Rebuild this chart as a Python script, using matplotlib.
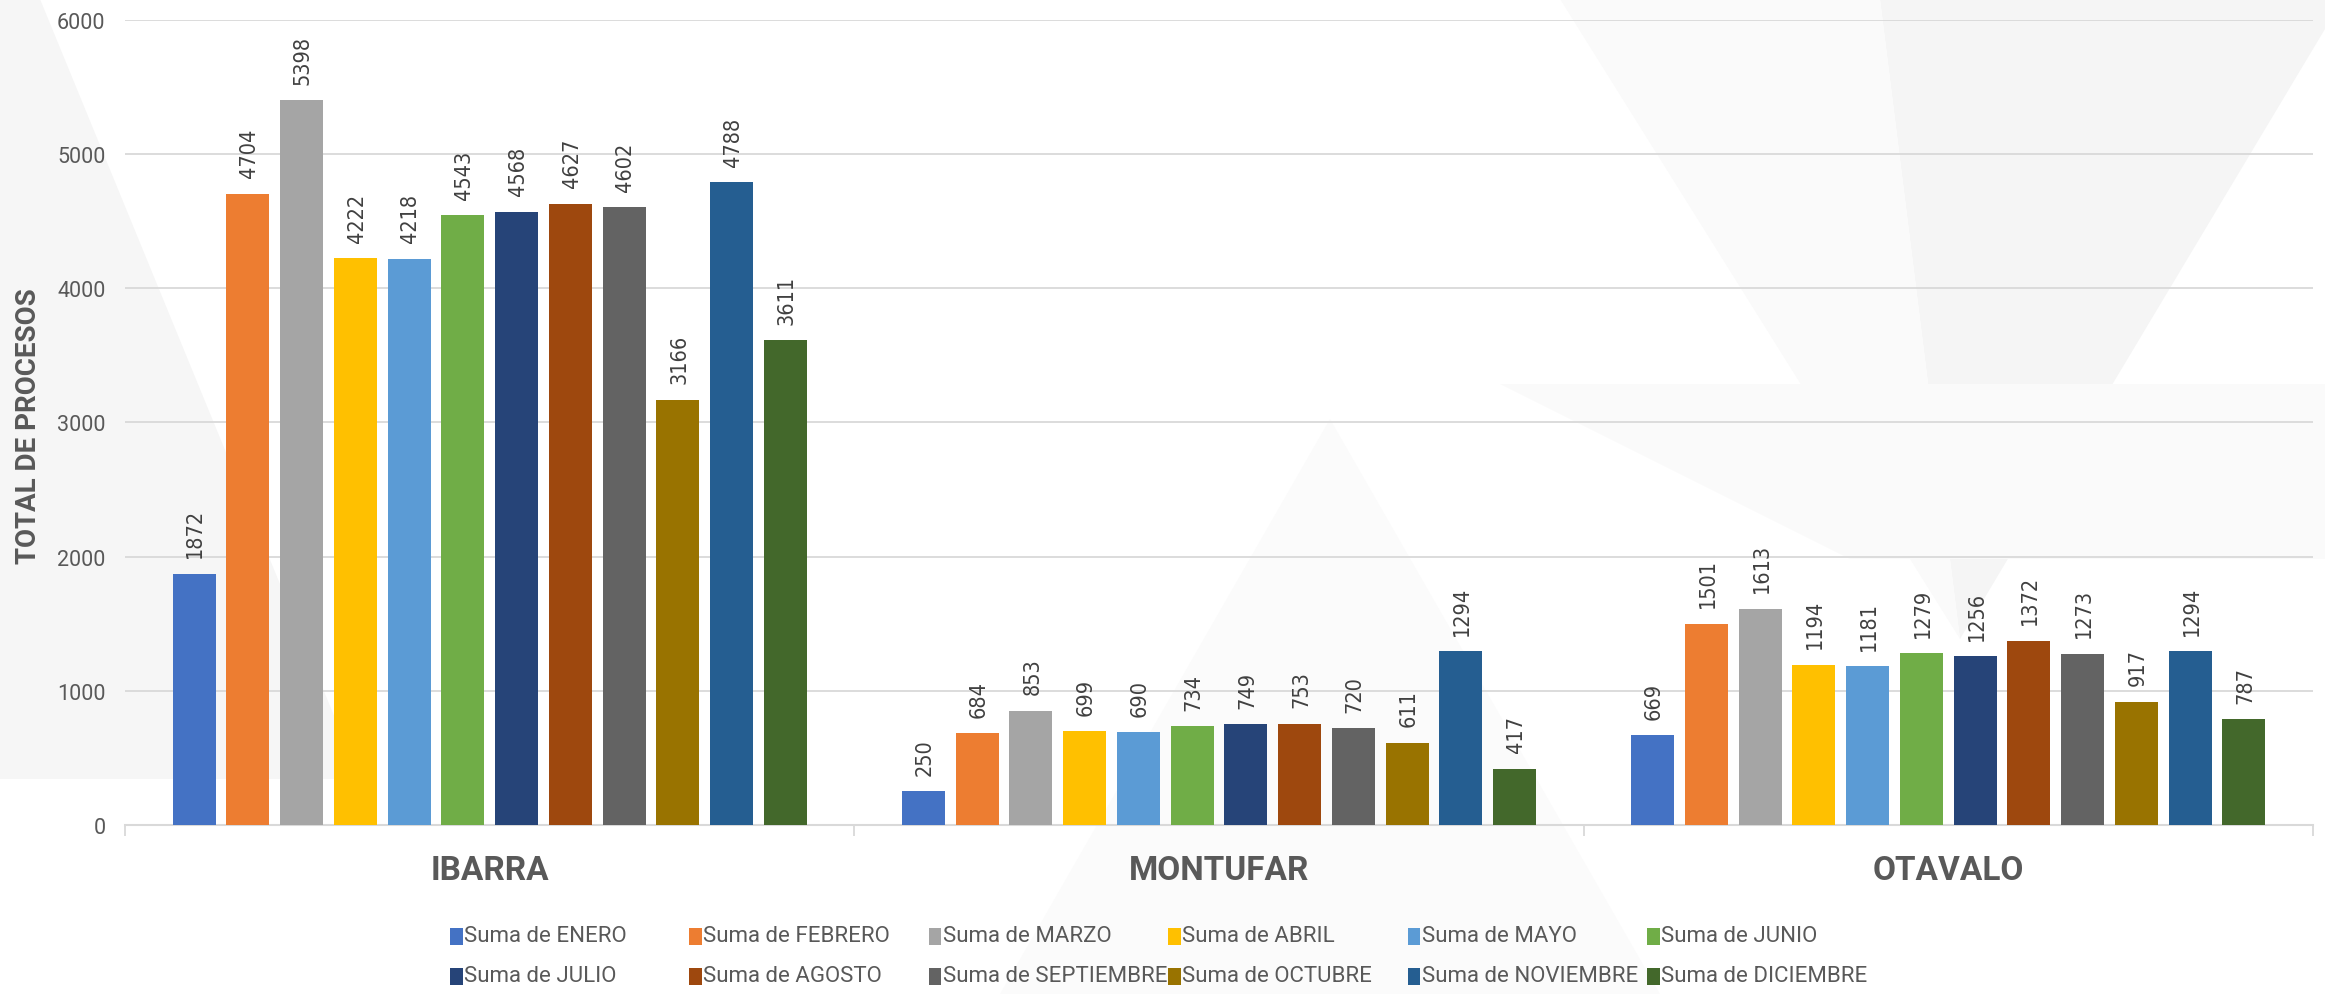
import matplotlib
matplotlib.use("Agg")
import matplotlib.pyplot as plt
from matplotlib.patches import Rectangle, Polygon
from matplotlib import font_manager as fm
import numpy as np

categories = ["IBARRA", "MONTUFAR", "OTAVALO"]
series_names = ["Suma de ENERO", "Suma de FEBRERO", "Suma de MARZO", "Suma de ABRIL",
                "Suma de MAYO", "Suma de JUNIO", "Suma de JULIO", "Suma de AGOSTO",
                "Suma de SEPTIEMBRE", "Suma de OCTUBRE", "Suma de NOVIEMBRE", "Suma de DICIEMBRE"]
ibarra = [1872, 4704, 5398, 4222, 4218, 4543, 4568, 4627, 4602, 3166, 4788, 3611]
montufar = [250, 684, 853, 699, 690, 734, 749, 753, 720, 611, 1294, 417]
otavalo = [669, 1501, 1613, 1194, 1181, 1279, 1256, 1372, 1273, 917, 1294, 787]
yticks = [0, 1000, 2000, 3000, 4000, 5000, 6000]
y_label = "TOTAL DE PROCESOS"

colors = ["#4472C4", "#ED7D31", "#A5A5A5", "#FFC000", "#5B9BD5", "#70AD47",
          "#264478", "#9E480E", "#636363", "#997300", "#255E91", "#43682B"]

values = np.array([ibarra, montufar, otavalo]).T  # (12 series, 3 categories)

# font for the value labels: condensed DejaVu if present
cond = [f.fname for f in fm.fontManager.ttflist if f.fname.endswith("DejaVuSansCondensed.ttf")]
if cond:
    label_fp = fm.FontProperties(fname=cond[0], size=15.5)
else:
    label_fp = fm.FontProperties(family="DejaVu Sans", size=14.5)

W, H = 2325, 995
fig = plt.figure(figsize=(W / 100, H / 100), dpi=100)
fig.patch.set_facecolor("white")

# faint decorative background shapes
bg = fig.add_axes([0, 0, 1, 1], zorder=-10)
bg.set_xlim(0, W); bg.set_ylim(H, 0); bg.axis("off")
shapes = [
    ([(0, 0), (40, 0), (360, 780), (0, 780)], "#f6f6f6"),
    ([(1880, 0), (2325, 0), (2325, 30), (1960, 640)], "#f5f5f5"),
    ([(1100, 0), (1880, 0), (1960, 640), (1560, 0)], "#fafafa"),
    ([(1500, 385), (2325, 385), (2325, 560), (1850, 560)], "#fafafa"),
    ([(1000, 995), (1330, 420), (1660, 995)], "#fbfbfb"),
]
for s, c in shapes:
    bg.add_patch(Polygon(s, closed=True, facecolor=c, edgecolor="none"))

ax = fig.add_axes([125 / W, 1 - 826 / H, 2188 / W, 805.3 / H])
ax.set_facecolor("none")

x = np.arange(len(categories))
pitch = 0.0737
bw = 0.059
n = len(series_names)
for i in range(n):
    xs = x + (i - (n - 1) / 2) * pitch
    bars = ax.bar(xs, values[i], width=bw, color=colors[i], label=series_names[i], zorder=3)
    for b, v in zip(bars, values[i]):
        ax.annotate(str(v), (b.get_x() + b.get_width() / 2, v), xytext=(1, 12),
                    textcoords="offset points", rotation=90, ha="center", va="bottom",
                    fontproperties=label_fp, color="#404040")

ax.set_xlim(-0.5, 2.5)
ax.set_ylim(0, 6000)
ax.set_yticks(yticks)
ax.set_yticklabels([str(t) for t in yticks], fontsize=15.5, color="#595959", family="Roboto")
ax.tick_params(axis="y", length=0, pad=14)
ax.yaxis.grid(True, color="#d9d9d9", linewidth=1.3, zorder=0)
ax.set_axisbelow(True)

ax.set_xticks(x)
ax.set_xticklabels(categories, fontsize=24, fontweight="bold", color="#595959", family="Roboto")
ax.set_xticks([-0.5, 0.5, 1.5, 2.5], minor=True)
ax.tick_params(axis="x", which="major", length=0, pad=21)
ax.tick_params(axis="x", which="minor", length=8, width=1.3, color="#d9d9d9", direction="out")

for sp in ["top", "right", "left"]:
    ax.spines[sp].set_visible(False)
ax.spines["bottom"].set_color("#d9d9d9")
ax.spines["bottom"].set_linewidth(1.5)

fig.text(28.5 / W, 1 - 426 / H, y_label, rotation=90, ha="center", va="center",
         fontsize=20, fontweight="bold", color="#595959", family="Roboto")

# legend laid out in a 2x6 grid like the original
col_x = 450
col_pitch = 239.4
row_y = [937, 977]
for i, name in enumerate(series_names):
    r, c = divmod(i, 6)
    lx = col_x + c * col_pitch
    ly = row_y[r]
    fig.patches.append(Rectangle((lx / W, 1 - (ly + 8.5) / H), 12.5 / W, 17 / H,
                                 transform=fig.transFigure, facecolor=colors[i],
                                 edgecolor="none", figure=fig))
    fig.text((lx + 14) / W, 1 - ly / H, name, ha="left", va="center",
             fontsize=16, color="#595959", family="Roboto")

fig.savefig("out.png", dpi=100, facecolor="white")
